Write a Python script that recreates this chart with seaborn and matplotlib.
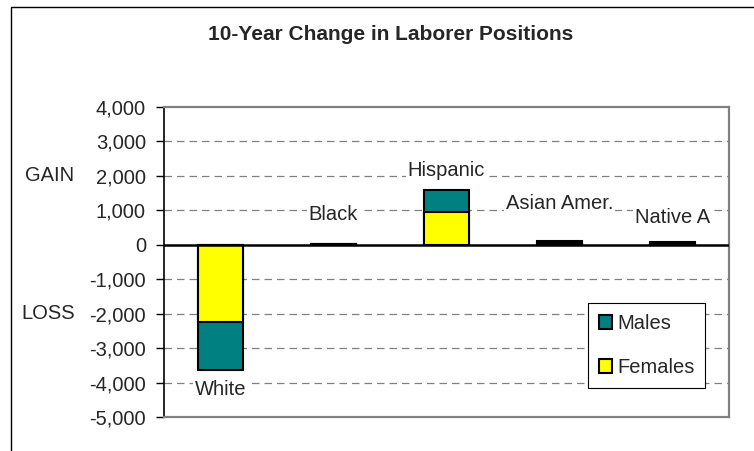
import pandas as pd
import matplotlib
matplotlib.use("Agg")
import matplotlib.pyplot as plt
import seaborn as sns
from matplotlib.patches import Rectangle

# data
groups = ["White", "Black", "Hispanic", "Asian Amer.", "Native A"]
females = [-2230, 10, 950, 40, 30]
males = [-1410, 10, 640, 60, 50]
label_y = [-4200, 870, 2150, 1210, 800]   # where Excel put the category labels
yticks = list(range(-5000, 4001, 1000))

sns.set_style("white")
plt.rcParams['font.family'] = ['Liberation Sans', 'DejaVu Sans']
fs = 14.5

df = pd.DataFrame({"group": groups, "Females": females, "Males": males})
df["total"] = df["Females"] + df["Males"]

fig = plt.figure(figsize=(7.54, 4.51), dpi=100)
ax = fig.add_axes([164 / 754, 1 - 417 / 451, 565 / 754, 310 / 451])

# stacked: draw the full bar in male colour, then the female part over it
sns.barplot(data=df, x="group", y="total", color="#008080", width=0.4,
            edgecolor="black", linewidth=1.5, saturation=1, ax=ax, label="Males",
            zorder=3)
sns.barplot(data=df, x="group", y="Females", color="#FFFF00", width=0.4,
            edgecolor="black", linewidth=1.5, saturation=1, ax=ax, label="Females",
            zorder=3)

ax.set_xlim(-0.5, 4.5)
ax.set_ylim(-5000, 4000)
ax.set_yticks(yticks)
ax.set_yticklabels([f"{v:,}" for v in yticks], fontsize=fs)
ax.set_xticks([])
ax.set_xlabel("")
ax.set_ylabel("")
ax.tick_params(axis="y", direction="out", length=6, width=1, color="black",
               pad=7, left=True)

for v in yticks:
    if v in (-5000, 4000):
        continue
    if v == 0:
        ax.axhline(0, color="black", lw=1.8, zorder=4)
    else:
        ax.axhline(v, color="#808080", lw=0.9, ls=(0, (6, 4)), zorder=1)

for side in ["top", "right", "bottom"]:
    ax.spines[side].set_color("#808080")
    ax.spines[side].set_linewidth(1.6)
ax.spines["left"].set_color("black")
ax.spines["left"].set_linewidth(1.2)

for i, g in enumerate(groups):
    ax.text(i, label_y[i], g, ha="center", va="center", fontsize=fs, zorder=5,
            bbox=dict(facecolor="white", edgecolor="none", pad=1.5))

# GAIN / LOSS side labels
trans = matplotlib.transforms.blended_transform_factory(fig.transFigure, ax.transData)
ax.text(50 / 754, 2000, "GAIN", transform=trans, ha="center", va="center", fontsize=fs)
ax.text(48 / 754, -2000, "LOSS", transform=trans, ha="center", va="center", fontsize=fs)

handles, labels = ax.get_legend_handles_labels()
leg = ax.legend(handles, labels, loc="upper left", bbox_to_anchor=(0.75, 0.368),
                fontsize=fs, frameon=True, fancybox=False, edgecolor="black",
                framealpha=1, handlelength=0.65, handleheight=0.65, handletextpad=0.25,
                labelspacing=1.25, borderpad=0.55, borderaxespad=0)
leg.get_frame().set_linewidth(0.8)

fig.text(391 / 754, 1 - 35 / 451, "10-Year Change in Laborer Positions",
         ha="center", va="center", fontsize=15, fontweight="bold")

# outer chart-area border, cut off at right and bottom
fig.add_artist(Rectangle((11 / 754, -0.2), 2, 1 - 7 / 451 + 0.2,
                         transform=fig.transFigure, fill=False,
                         edgecolor="black", lw=1))

fig.savefig("out.png", dpi=100)
